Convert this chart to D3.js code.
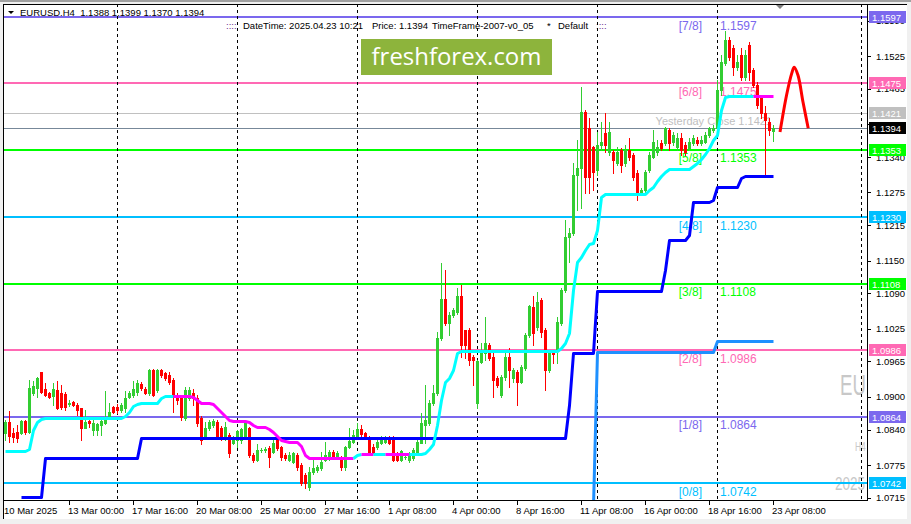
<!DOCTYPE html>
<html><head><meta charset="utf-8">
<script src="https://cdn.jsdelivr.net/npm/d3@7"></script>
<style>
html,body{margin:0;padding:0;background:#f0f0f0;}
svg{display:block;}
text{font-family:"Liberation Sans",Arial,sans-serif;}
</style></head><body>
<svg id="c" width="911" height="524"></svg>
<script>
// ---------------- DATA ----------------
const firstBar = 2; // bar index of the first visible candle (H4 bars from 10 Mar 2025 00:00)
// [open, high, low, close]
const ohlc = [
[1.0834,1.0857,1.0821,1.0854],[1.0854,1.0874,1.0817,1.0828],[1.0834,1.0843,1.0817,1.0826],[1.0835,1.0848,1.0817,1.0824],
[1.0834,1.0857,1.0832,1.0856],[1.0856,1.0857,1.0832,1.0835],[1.0835,1.0931,1.0834,1.0916],[1.0907,1.0929,1.0903,1.0920],
[1.0916,1.0936,1.0899,1.0934],[1.0945,1.0946,1.0907,1.0909],[1.0914,1.0925,1.0901,1.0903],[1.0907,1.0909,1.0898,1.0899],
[1.0901,1.0925,1.0885,1.0914],[1.0912,1.0929,1.0878,1.0879],[1.0907,1.0921,1.0878,1.0881],[1.0905,1.0909,1.0876,1.0881],
[1.0887,1.0894,1.0883,1.0889],[1.0890,1.0892,1.0883,1.0885],[1.0885,1.0888,1.0866,1.0876],[1.0879,1.0880,1.0821,1.0843],
[1.0843,1.0876,1.0842,1.0854],[1.0856,1.0857,1.0844,1.0852],[1.0839,1.0857,1.0830,1.0852],[1.0839,1.0852,1.0830,1.0850],
[1.0848,1.0857,1.0830,1.0856],[1.0852,1.0910,1.0850,1.0861],[1.0863,1.0888,1.0862,1.0872],[1.0881,1.0883,1.0870,1.0872],
[1.0881,1.0887,1.0870,1.0876],[1.0876,1.0888,1.0872,1.0885],[1.0879,1.0910,1.0872,1.0898],[1.0899,1.0910,1.0898,1.0907],
[1.0903,1.0929,1.0899,1.0914],[1.0909,1.0931,1.0903,1.0925],[1.0923,1.0927,1.0912,1.0916],[1.0914,1.0918,1.0905,1.0907],
[1.0907,1.0951,1.0903,1.0949],[1.0949,1.0951,1.0901,1.0903],[1.0912,1.0951,1.0909,1.0949],[1.0949,1.0951,1.0936,1.0940],
[1.0944,1.0945,1.0931,1.0934],[1.0940,1.0945,1.0923,1.0927],[1.0931,1.0934,1.0872,1.0903],[1.0903,1.0907,1.0887,1.0894],
[1.0901,1.0903,1.0857,1.0863],[1.0861,1.0918,1.0857,1.0912],[1.0898,1.0918,1.0894,1.0912],[1.0907,1.0914,1.0885,1.0898],
[1.0898,1.0903,1.0846,1.0852],[1.0861,1.0865,1.0813,1.0821],[1.0826,1.0854,1.0824,1.0843],[1.0843,1.0857,1.0839,1.0854],
[1.0848,1.0859,1.0844,1.0856],[1.0854,1.0857,1.0822,1.0826],[1.0843,1.0846,1.0821,1.0826],[1.0826,1.0854,1.0821,1.0844],
[1.0830,1.0834,1.0789,1.0797],[1.0815,1.0828,1.0813,1.0824],[1.0821,1.0840,1.0808,1.0837],[1.0821,1.0843,1.0815,1.0841],
[1.0826,1.0856,1.0822,1.0854],[1.0843,1.0844,1.0789,1.0793],[1.0793,1.0797,1.0780,1.0784],[1.0784,1.0813,1.0782,1.0802],
[1.0802,1.0806,1.0798,1.0803],[1.0802,1.0808,1.0798,1.0804],[1.0806,1.0810,1.0771,1.0789],[1.0798,1.0824,1.0797,1.0815],
[1.0821,1.0822,1.0802,1.0806],[1.0808,1.0810,1.0784,1.0789],[1.0793,1.0797,1.0784,1.0787],[1.0784,1.0799,1.0782,1.0793],
[1.0780,1.0799,1.0778,1.0797],[1.0793,1.0797,1.0766,1.0771],[1.0775,1.0778,1.0738,1.0742],[1.0756,1.0760,1.0733,1.0742],
[1.0734,1.0771,1.0729,1.0762],[1.0762,1.0784,1.0758,1.0769],[1.0766,1.0775,1.0762,1.0771],[1.0769,1.0799,1.0766,1.0780],
[1.0784,1.0817,1.0782,1.0793],[1.0787,1.0802,1.0784,1.0799],[1.0799,1.0802,1.0787,1.0789],[1.0787,1.0801,1.0786,1.0797],
[1.0787,1.0791,1.0766,1.0771],[1.0771,1.0810,1.0766,1.0808],[1.0808,1.0843,1.0806,1.0819],[1.0817,1.0839,1.0815,1.0830],
[1.0826,1.0852,1.0824,1.0841],[1.0841,1.0848,1.0828,1.0832],[1.0834,1.0835,1.0822,1.0824],[1.0824,1.0828,1.0797,1.0799],
[1.0808,1.0813,1.0797,1.0799],[1.0808,1.0821,1.0804,1.0817],[1.0815,1.0828,1.0813,1.0821],[1.0817,1.0828,1.0815,1.0824],
[1.0824,1.0828,1.0813,1.0815],[1.0826,1.0828,1.0782,1.0784],[1.0797,1.0799,1.0782,1.0784],[1.0784,1.0802,1.0782,1.0801],
[1.0789,1.0793,1.0786,1.0790],[1.0784,1.0799,1.0780,1.0793],[1.0787,1.0806,1.0784,1.0802],[1.0799,1.0821,1.0797,1.0817],
[1.0815,1.0870,1.0815,1.0852],[1.0848,1.0921,1.0815,1.0857],[1.0852,1.0894,1.0848,1.0888],[1.0888,1.0921,1.0885,1.0907],
[1.0907,1.1019,1.0903,1.1008],[1.1008,1.1145,1.1004,1.1079],[1.1079,1.1133,1.1032,1.1036],[1.1036,1.1055,1.1013,1.1050],
[1.1050,1.1063,1.1046,1.1059],[1.1055,1.1100,1.1052,1.1086],[1.1086,1.1105,1.0973,1.0995],[1.1022,1.1023,1.0971,1.0995],
[1.1022,1.1026,1.0958,1.0967],[1.0973,1.0976,1.0921,1.0967],[1.0888,1.0967,1.0879,1.0966],[1.0964,1.0999,1.0962,1.0986],
[1.0980,1.1046,1.0967,1.0999],[1.0995,1.0999,1.0967,1.0971],[1.0973,1.0986,1.0899,1.0931],[1.0934,1.0938,1.0918,1.0921],
[1.0903,1.0940,1.0899,1.0936],[1.0936,1.0980,1.0931,1.0973],[1.0973,1.0989,1.0918,1.0949],[1.0934,1.0953,1.0927,1.0949],
[1.0945,1.0949,1.0885,1.0927],[1.0927,1.0958,1.0925,1.0955],[1.0953,1.1017,1.0949,1.1013],[1.1013,1.1068,1.1010,1.1066],
[1.1065,1.1086,1.0995,1.1017],[1.1028,1.1092,1.1022,1.1074],[1.1077,1.1081,1.1010,1.1019],[1.1022,1.1026,1.0912,1.0949],
[1.0949,1.0986,1.0945,1.0982],[1.0982,1.0986,1.0962,1.0978],[1.0986,1.1046,1.0962,1.1037],[1.1035,1.1100,1.1032,1.1096],
[1.1096,1.1224,1.1092,1.1193],[1.1193,1.1209,1.1147,1.1200],[1.1200,1.1329,1.1197,1.1307],[1.1307,1.1371,1.1243,1.1320],
[1.1320,1.1468,1.1246,1.1423],[1.1423,1.1426,1.1274,1.1303],[1.1393,1.1411,1.1274,1.1303],[1.1358,1.1360,1.1279,1.1312],
[1.1316,1.1386,1.1307,1.1362],[1.1362,1.1404,1.1353,1.1367],[1.1384,1.1421,1.1349,1.1362],[1.1349,1.1404,1.1344,1.1386],
[1.1349,1.1353,1.1310,1.1334],[1.1329,1.1358,1.1325,1.1349],[1.1353,1.1356,1.1312,1.1325],[1.1329,1.1362,1.1323,1.1353],
[1.1353,1.1375,1.1334,1.1340],[1.1344,1.1347,1.1298,1.1303],[1.1310,1.1316,1.1261,1.1274],[1.1274,1.1283,1.1272,1.1279],
[1.1279,1.1316,1.1276,1.1312],[1.1316,1.1349,1.1312,1.1344],[1.1340,1.1390,1.1338,1.1367],[1.1349,1.1371,1.1344,1.1358],
[1.1366,1.1371,1.1353,1.1356],[1.1366,1.1395,1.1362,1.1393],[1.1390,1.1393,1.1353,1.1366],[1.1367,1.1386,1.1362,1.1380],
[1.1358,1.1384,1.1353,1.1375],[1.1375,1.1384,1.1344,1.1353],[1.1362,1.1367,1.1344,1.1349],[1.1356,1.1375,1.1353,1.1367],
[1.1366,1.1380,1.1362,1.1375],[1.1371,1.1377,1.1362,1.1366],[1.1366,1.1378,1.1362,1.1371],[1.1367,1.1386,1.1366,1.1380],
[1.1380,1.1395,1.1377,1.1393],[1.1390,1.1399,1.1386,1.1393],[1.1393,1.1481,1.1386,1.1463],[1.1463,1.1527,1.1454,1.1514],
[1.1512,1.1572,1.1509,1.1555],[1.1555,1.1560,1.1518,1.1523],[1.1540,1.1545,1.1490,1.1505],[1.1505,1.1527,1.1500,1.1514],
[1.1527,1.1540,1.1481,1.1487],[1.1487,1.1536,1.1481,1.1527],[1.1545,1.1551,1.1481,1.1496],[1.1500,1.1503,1.1468,1.1472],
[1.1472,1.1478,1.1430,1.1435],[1.1450,1.1454,1.1411,1.1421],[1.1421,1.1433,1.1307,1.1408],[1.1404,1.1411,1.1380,1.1390],
[1.1388,1.1399,1.1370,1.1394]
];

// trailing line (cyan = up, magenta = down), one value per candle
const nrtr = [
1.0800,1.0800,1.0800,1.0800,1.0800,1.0800,
1.0804,1.0839,1.0854,1.0859,
1.0861,1.0861,1.0861,1.0861,1.0861,1.0861,1.0861,1.0861,1.0861,1.0861,
1.0861,1.0861,1.0861,1.0861,1.0861,1.0861,1.0861,1.0861,1.0861,1.0861,
1.0865,1.0872,1.0883,1.0887,
1.0888,1.0888,1.0888,1.0888,1.0888,
1.0898,
1.0901,1.0901,1.0901,1.0901,1.0901,1.0901,1.0901,
1.0899,1.0894,
1.0888,1.0888,1.0888,
1.0887,1.0879,1.0872,1.0865,1.0857,
1.0856,1.0856,1.0856,1.0856,
1.0854,1.0848,
1.0844,1.0844,1.0844,
1.0841,1.0835,1.0828,1.0821,1.0819,
1.0817,1.0817,1.0817,
1.0810,1.0793,
1.0787,1.0787,1.0787,1.0787,1.0787,1.0787,1.0787,1.0787,1.0787,1.0787,1.0787,1.0787,
1.0793,
1.0795,1.0795,1.0795,1.0795,1.0795,1.0795,1.0795,1.0795,1.0795,1.0795,1.0795,1.0795,1.0795,1.0795,1.0795,1.0795,
1.0797,1.0804,1.0813,1.0848,1.0894,1.0927,1.0934,1.0949,1.0980,
1.0984,1.0984,1.0984,1.0984,1.0984,1.0984,1.0984,1.0984,1.0984,1.0984,
1.0984,1.0984,1.0984,1.0984,1.0984,1.0984,1.0984,1.0984,1.0984,1.0984,
1.0984,1.0984,1.0984,1.0984,1.0984,
1.0989,1.0999,1.1017,1.1096,1.1147,1.1156,1.1169,1.1180,1.1182,1.1206,1.1267,
1.1272,1.1272,1.1272,1.1272,1.1272,1.1272,1.1272,1.1272,1.1272,1.1272,1.1272,
1.1279,1.1285,1.1296,1.1305,1.1312,
1.1318,1.1318,1.1318,1.1318,1.1318,1.1318,
1.1323,1.1329,1.1336,1.1345,1.1356,1.1371,1.1380,1.1426,1.1450,
1.1452,1.1452,1.1452,1.1452,1.1452,1.1452,1.1452,1.1452,1.1452,1.1452,1.1452,1.1452
];
// bar ranges where the trailing line is in its "down" (magenta) state
const nrtrDownRuns = [[45,89],[92,94],[98,103],[190,194]];

// blue stepped line, starting at bar 6
const blueStartBar = 6;
const blueLine = [
1.0716,1.0716,1.0716,1.0716,1.0716,1.0716,
1.0788,1.0788,1.0788,1.0788,1.0788,1.0788,1.0788,1.0788,1.0788,1.0788,1.0788,1.0788,
1.0788,1.0788,1.0788,1.0788,1.0788,1.0788,1.0788,1.0788,1.0788,1.0788,1.0788,1.0788,
1.0824,1.0824,1.0824,1.0824,1.0824,1.0824,1.0824,1.0824,1.0824,1.0824,
1.0824,1.0824,1.0824,1.0824,1.0824,1.0824,1.0824,1.0824,1.0824,1.0824,
1.0824,1.0824,1.0824,1.0824,1.0824,1.0824,1.0824,1.0824,1.0824,1.0824,
1.0824,1.0824,1.0824,1.0824,1.0824,1.0824,1.0824,1.0824,1.0824,1.0824,
1.0824,1.0824,1.0824,1.0824,1.0824,1.0824,1.0824,1.0824,1.0824,1.0824,
1.0824,1.0824,1.0824,1.0824,1.0824,1.0824,1.0824,1.0824,1.0824,1.0824,
1.0824,1.0824,1.0824,1.0824,1.0824,1.0824,1.0824,1.0824,1.0824,1.0824,
1.0824,1.0824,1.0824,1.0824,1.0824,1.0824,1.0824,1.0824,1.0824,1.0824,
1.0824,1.0824,1.0824,1.0824,1.0824,1.0824,1.0824,1.0824,1.0824,1.0824,
1.0824,1.0824,1.0824,1.0824,1.0824,1.0824,1.0824,1.0824,1.0824,1.0824,
1.0824,1.0824,1.0824,1.0824,1.0824,1.0824,1.0824,
1.0885,
1.0980,1.0980,1.0980,1.0980,1.0980,1.0980,
1.1094,1.1094,1.1094,1.1094,1.1094,1.1094,1.1094,1.1094,1.1094,1.1094,
1.1094,1.1094,1.1094,1.1094,1.1094,1.1094,1.1094,
1.1133,
1.1188,1.1188,1.1188,1.1188,1.1188,
1.1197,
1.1257,1.1257,1.1257,1.1257,1.1257,
1.1261,
1.1285,1.1285,1.1285,1.1285,1.1285,1.1285,
1.1301,
1.1305,1.1305,1.1305,1.1305,1.1305,1.1305,1.1305,1.1305
];

// dodger-blue stepped line, starting at bar 149
const dodgerStartBar = 149;
const dodgerLine = [
1.0700,
1.0982,1.0982,1.0982,1.0982,1.0982,1.0982,1.0982,1.0982,1.0982,1.0982,
1.0982,1.0982,1.0982,1.0982,1.0982,1.0982,1.0982,1.0982,1.0982,1.0982,
1.0982,1.0982,1.0982,1.0982,1.0982,1.0982,1.0982,1.0982,1.0982,1.0982,
1.1002,1.1002,1.1002,1.1002,1.1002,1.1002,1.1002,1.1002,1.1002,1.1002,
1.1002,1.1002,1.1002,1.1002,1.1002
];

const murreyNames  = ["[7/8]","[6/8]","[5/8]","[4/8]","[3/8]","[2/8]","[1/8]","[0/8]"];
const murreyLevels = [1.1597,1.1475,1.1353,1.1230,1.1108,1.0986,1.0864,1.0742];
const murreyColors = ["#7b68ee","#ff69b4","#00ff00","#00bfff","#00ff00","#ff69b4","#7b68ee","#00bfff"];
const murreyLabelBar = 180;
const yesterdayClose = 1.1421;
const lastPrice = 1.1394;
const headerValues = ["1.1388","1.1399","1.1370","1.1394"];
const watermarkTexts = ["EU","H4","2025"];

const priceTicks = [1.1590,1.1525,1.1465,1.1400,1.1340,1.1275,1.1215,1.1150,1.1090,1.1025,1.0965,1.0900,1.0840,1.0775,1.0715];
const timeLabels = ["10 Mar 2025","13 Mar 00:00","17 Mar 16:00","20 Mar 08:00","25 Mar 00:00","27 Mar 16:00","1 Apr 08:00","4 Apr 00:00","8 Apr 16:00","11 Apr 08:00","16 Apr 00:00","18 Apr 16:00","23 Apr 08:00"];
const timeLabelBars = [2,18,34,50,66,82,98,114,130,146,162,178,194];
const weekSeparatorBars = [30,60,90,120,150,180];
const extraVLineBar = 216;

// forecast arc drawn to the right of the last bar: [bar position, price]
const forecastArc = [[195.75,1.1386],[197.4,1.1454],[198.7,1.1494],[199.3,1.1505],[200.25,1.1490],[201.5,1.1441],[202.8,1.1393]];

// ---------------- DRAWING ----------------
const W = 911, H = 524;
const P = {l:3, t:4, r:867, b:500};
const svg = d3.select("#c");
const x = d3.scaleLinear().domain([0,194]).range([-3,773]);
const y = d3.scaleLinear().domain([1.0742,1.1597]).range([483,17]);
const ry = v => Math.round(y(v));

// window background
svg.append("rect").attr("x",0).attr("y",0).attr("width",W).attr("height",H).attr("fill","#f0f0f0");
svg.append("rect").attr("x",0).attr("y",0).attr("width",W).attr("height",2).attr("fill","#a0a0a0");
svg.append("rect").attr("x",P.l).attr("y",P.t).attr("width",907-P.l).attr("height",519-P.t).attr("fill","#ffffff");

svg.append("clipPath").attr("id","plotclip").append("rect")
  .attr("x",P.l+1).attr("y",P.t+1).attr("width",P.r-P.l-1).attr("height",P.b-P.t-1);
const plot = svg.append("g").attr("clip-path","url(#plotclip)");

// watermark (partly hidden behind the price axis)
const wm = plot.append("g").attr("fill","#c8c8c8");
wm.append("text").attr("transform","translate(840,395) scale(0.62,1)").attr("font-size",30).text(watermarkTexts[0]);
wm.append("text").attr("transform","translate(855,451) scale(0.7,1)").attr("font-size",12).text(watermarkTexts[1]);
wm.append("text").attr("transform","translate(835,490) scale(0.75,1)").attr("font-size",18).text(watermarkTexts[2]);

// header
plot.append("path").attr("d","M8,11 L14,11 L11,14 Z").attr("fill","#000");
plot.append("text").attr("x",20).attr("y",16).attr("font-size",9.5).style("white-space","pre")
  .text("EURUSD,H4  " + headerValues.join(" "));
const hdr = [[226,"::::","#6a2a8a"],[243,"DateTime: 2025.04.23 10:21","#000"],[372,"Price: 1.1394","#000"],
             [432,"TimeFrame-2007-v0_05","#000"],[547,"*","#000"],[558,"Default","#000"],[596,"::::","#6a2a8a"]];
plot.selectAll("text.hdr").data(hdr).enter().append("text").attr("class","hdr")
  .attr("x",d=>d[0]).attr("y",29).attr("font-size",9.5).attr("fill",d=>d[2]).text(d=>d[1]);

// horizontal level lines
plot.append("line").attr("x1",P.l).attr("x2",P.r).attr("y1",ry(yesterdayClose)+0.5).attr("y2",ry(yesterdayClose)+0.5)
  .attr("stroke","#c0c0c0").attr("stroke-width",1);
plot.append("line").attr("x1",P.l).attr("x2",P.r).attr("y1",ry(lastPrice)+0.5).attr("y2",ry(lastPrice)+0.5)
  .attr("stroke","#778899").attr("stroke-width",1);
murreyLevels.forEach((v,k)=>{
  plot.append("line").attr("x1",P.l).attr("x2",P.r).attr("y1",ry(v)).attr("y2",ry(v))
    .attr("stroke",murreyColors[k]).attr("stroke-width",2);
});
// level texts
murreyLevels.forEach((v,k)=>{
  const lx = x(murreyLabelBar);
  plot.append("text").attr("x",lx-15).attr("y",y(v)+12.5).attr("text-anchor","end").attr("font-size",12)
    .attr("fill",murreyColors[k]).text(murreyNames[k]);
  plot.append("text").attr("x",lx+3).attr("y",y(v)+12.5).attr("font-size",12)
    .attr("fill",murreyColors[k]).text(v.toFixed(4));
});
plot.append("text").attr("x",x(194)-1).attr("y",y(yesterdayClose)+12).attr("text-anchor","end")
  .attr("font-size",11).attr("fill","#c0c0c0").text("Yesterday Close " + yesterdayClose.toFixed(4));

// week separators
weekSeparatorBars.concat([extraVLineBar]).forEach(b=>{
  plot.append("line").attr("x1",x(b)+0.5).attr("x2",x(b)+0.5).attr("y1",P.t).attr("y2",P.b)
    .attr("stroke","#000").attr("stroke-width",1).attr("stroke-dasharray","3,3");
});

// logo
const logo = plot.append("g");
logo.append("rect").attr("x",361).attr("y",39).attr("width",191).attr("height",36).attr("fill","#8db43c");
const lt = logo.append("text").attr("x",456.5).attr("y",65).attr("text-anchor","middle")
  .attr("fill","#ffffff").style("font-family","'Open Sans',sans-serif").attr("font-size",24).text("freshforex.com");
const ll = lt.node().getComputedTextLength();
if (ll>0) lt.attr("font-size", 24*170/ll);

// candles
const cg = plot.append("g").attr("shape-rendering","crispEdges");
ohlc.forEach((d,k)=>{
  const i = firstBar + k;
  const cx = Math.round(x(i));
  const [o,h,l,c] = d;
  const col = c >= o ? "#32cd32" : "#ff0000";
  const yh = ry(h), yl = ry(l);
  cg.append("rect").attr("x",cx).attr("y",yh).attr("width",1).attr("height",Math.max(1,yl-yh+1)).attr("fill",col);
  const yt = Math.min(ry(o),ry(c)), yb = Math.max(ry(o),ry(c));
  cg.append("rect").attr("x",cx-1).attr("y",yt).attr("width",3).attr("height",Math.max(1,yb-yt+1)).attr("fill",col);
});

// blue stepped lines
const lineGen = d3.line().x(d=>x(d[0])+0.5).y(d=>ry(d[1])+0.5);
plot.append("path").datum(blueLine.map((v,k)=>[blueStartBar+k,v])).attr("d",lineGen)
  .attr("fill","none").attr("stroke","#0000ff").attr("stroke-width",3).attr("stroke-linejoin","round");
plot.append("path").datum(dodgerLine.map((v,k)=>[dodgerStartBar+k,v])).attr("d",lineGen)
  .attr("fill","none").attr("stroke","#1e90ff").attr("stroke-width",3).attr("stroke-linejoin","round");

// trailing line with colour runs
const isDown = i => nrtrDownRuns.some(r=>i>=r[0] && i<=r[1]);
const pts = nrtr.map((v,k)=>[firstBar+k,v]);
let runs = [];
for (let k=1;k<pts.length;k++){
  const col = isDown(pts[k][0]) ? "#ff00ff" : "#00ffff";
  if (runs.length && runs[runs.length-1].col===col) runs[runs.length-1].pts.push(pts[k]);
  else runs.push({col, pts:[pts[k-1],pts[k]]});
}
runs.forEach(r=>{
  plot.append("path").datum(r.pts).attr("d",lineGen).attr("fill","none")
    .attr("stroke",r.col).attr("stroke-width",3).attr("stroke-linejoin","round");
});

// forecast arc
plot.append("path").datum(forecastArc)
  .attr("d",d3.line().x(d=>x(d[0])).y(d=>y(d[1])).curve(d3.curveCatmullRom))
  .attr("fill","none").attr("stroke","#ff0000").attr("stroke-width",3);

// chart shift marker
svg.append("path").attr("d","M776,5 L784,5 L780,9 Z").attr("fill","#808080");

// frame
const fr = svg.append("g").attr("stroke","#000").attr("stroke-width",1).attr("shape-rendering","crispEdges");
fr.append("line").attr("x1",P.l+0.5).attr("x2",P.l+0.5).attr("y1",P.t).attr("y2",519);
fr.append("line").attr("x1",P.l).attr("x2",907).attr("y1",P.t+0.5).attr("y2",P.t+0.5);
fr.append("line").attr("x1",P.r+0.5).attr("x2",P.r+0.5).attr("y1",P.t).attr("y2",P.b+1);
fr.append("line").attr("x1",P.l).attr("x2",P.r+1).attr("y1",P.b+0.5).attr("y2",P.b+0.5);

// price axis
const ax = svg.append("g");
priceTicks.forEach(v=>{
  ax.append("line").attr("x1",P.r).attr("x2",P.r+4).attr("y1",ry(v)+0.5).attr("y2",ry(v)+0.5)
    .attr("stroke","#000").attr("shape-rendering","crispEdges");
  ax.append("text").attr("x",876).attr("y",y(v)+3.5).attr("font-size",9.5).attr("fill","#000").text(v.toFixed(4));
});
const boxes = murreyLevels.map((v,k)=>({v, col:murreyColors[k]}))
  .concat([{v:yesterdayClose,col:"#c0c0c0"},{v:lastPrice,col:"#000000"}]);
boxes.forEach(b=>{
  const yy = ry(b.v);
  ax.append("rect").attr("x",869).attr("y",yy-6).attr("width",37).attr("height",12).attr("fill",b.col);
  ax.append("text").attr("x",872).attr("y",yy+3.5).attr("font-size",9.5).attr("fill","#fff").text(b.v.toFixed(4));
});

// time axis
timeLabels.forEach((t,k)=>{
  const bx = Math.round(x(timeLabelBars[k]));
  if (k>0) ax.append("line").attr("x1",bx+0.5).attr("x2",bx+0.5).attr("y1",P.b+1).attr("y2",P.b+5)
    .attr("stroke","#000").attr("shape-rendering","crispEdges");
  ax.append("text").attr("x",bx-1).attr("y",514).attr("font-size",9.5).attr("fill","#000").text(t);
});
</script>
</body></html>
